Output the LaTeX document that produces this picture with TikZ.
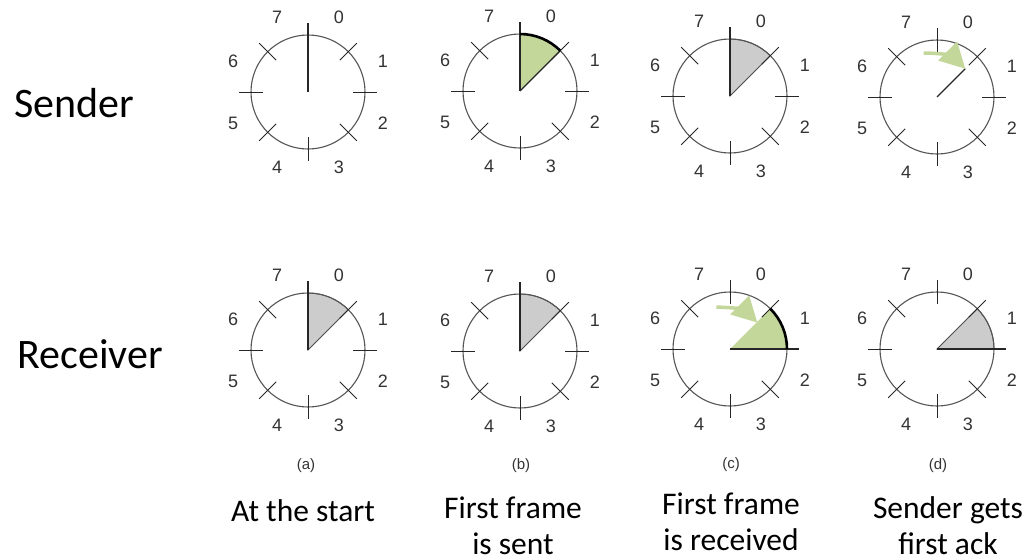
\documentclass[tikz,border=0pt]{standalone}
\usepackage{fontspec}
\setmainfont{Carlito}
\newfontfamily\arialfam{Liberation Sans}
\usetikzlibrary{arrows.meta,positioning,calc}

\definecolor{framegreen}{HTML}{C4D79B}
\definecolor{slotgray}{HTML}{CCCCCC}
\definecolor{rimgray}{HTML}{555555}

% one sequence-number wheel: rim, eight ticks, numbers 0..7
\newcommand{\wheel}[1]{%
  \draw[rim] (#1) circle (57);
  \foreach \a in {0,45,...,315}
    \draw[ticker] ($(#1)+(\a:45)$) -- ($(#1)+(\a:69)$);
  \foreach \n in {0,...,7}
    \node[num] (#1-\n) at ($(#1)+(67.5-45*\n:81)$) {\n};
}

\begin{document}
\begin{tikzpicture}[x=1pt,y=1pt,>=Latex,
  rim/.style={draw=rimgray,line width=1.1pt},
  ticker/.style={draw=black!85,line width=1pt},
  hand/.style={draw=black!85,line width=1.1pt},
  framearc/.style={draw=black,line width=2.6pt},
  num/.style={font={\arialfam\fontsize{18}{20}\selectfont},text=black!80,inner sep=0pt},
  sublabel/.style={font={\arialfam\fontsize{15}{18}\selectfont},text=black!80,inner sep=0pt},
  rowlabel/.style={font={\fontsize{42}{48}\selectfont},anchor=base,inner sep=0pt},
  steplabel/.style={font={\fontsize{31.5}{36}\selectfont},align=center,anchor=base,inner sep=0pt},
  pointer/.style={draw=framegreen,line width=3.5pt,-{Triangle[length=25pt,width=26pt]}}]
\useasboundingbox (0,0) rectangle (1029,-560);

\coordinate (sa) at (308,-92);
\coordinate (sb) at (520,-91);
\coordinate (sc) at (730,-96);
\coordinate (sd) at (937,-97);
\coordinate (ra) at (308,-350);
\coordinate (rb) at (520,-351);
\coordinate (rc) at (730,-349);
\coordinate (rd) at (937,-349);

\node[rowlabel] (sender) at (74,-117) {Sender};
\node[rowlabel] (receiver) at (90,-368) {Receiver};

% sender (a)
\wheel{sa}
\draw[hand] (sa) -- ++(90:69);

% sender (b)
\fill[framegreen] (sb) -- ++(90:57) arc[start angle=90,end angle=45,radius=57] -- cycle;
\wheel{sb}
\draw[hand] (sb) -- ++(90:69);
\draw[hand] (sb) -- ++(45:57);
\draw[framearc] ($(sb)+(90:57)$) arc[start angle=90,end angle=45,radius=57];

% sender (c)
\filldraw[fill=slotgray,draw=black!70,line width=0.8pt] (sc) -- ++(90:57) arc[start angle=90,end angle=45,radius=57] -- cycle;
\wheel{sc}
\draw[hand] (sc) -- ++(90:69);

% sender (d)
\wheel{sd}
\coordinate (sd-from) at ($(sd)+(107:46)$);
\coordinate (sd-to) at ($(sd)+(45:40)$);
\draw[hand] (sd) -- (sd-to);
\draw[pointer] (sd-from) to[out=0,in=135] (sd-to);

% receiver (a)
\filldraw[fill=slotgray,draw=black!70,line width=0.8pt] (ra) -- ++(90:57) arc[start angle=90,end angle=45,radius=57] -- cycle;
\wheel{ra}
\draw[hand] (ra) -- ++(90:69);

% receiver (b)
\filldraw[fill=slotgray,draw=black!70,line width=0.8pt] (rb) -- ++(90:57) arc[start angle=90,end angle=45,radius=57] -- cycle;
\wheel{rb}
\draw[hand] (rb) -- ++(90:69);

% receiver (c)
\fill[framegreen] (rc) -- ++(45:57) arc[start angle=45,end angle=0,radius=57] -- cycle;
\wheel{rc}
\draw[hand,line width=1.6pt] (rc) -- ++(0:69);
\draw[framearc] ($(rc)+(45:57)$) arc[start angle=45,end angle=0,radius=57];
\coordinate (rc-from) at ($(rc)+(108:44)$);
\coordinate (rc-to) at ($(rc)+(44:38)$);
\draw[pointer] (rc-from) to[out=0,in=135] (rc-to);

% receiver (d)
\filldraw[fill=slotgray,draw=black!70,line width=0.8pt] (rd) -- ++(45:57) arc[start angle=45,end angle=0,radius=57] -- cycle;
\wheel{rd}
\draw[hand,line width=1.6pt] (rd) -- ++(0:69);

% captions
\node[sublabel] (capa) at (306,-466) {(a)};
\node[sublabel] (capb) at (521,-466) {(b)};
\node[sublabel] (capc) at (731,-465) {(c)};
\node[sublabel] (capd) at (938,-466) {(d)};
\node[steplabel] (notea) at (303,-521) {At the start};
\node[steplabel] (noteb) at (513,-554) {First frame\\is sent};
\node[steplabel] (notec) at (731,-550) {First frame\\is received};
\node[steplabel] (noted) at (948,-554) {Sender gets\\first ack};
\end{tikzpicture}
\end{document}
